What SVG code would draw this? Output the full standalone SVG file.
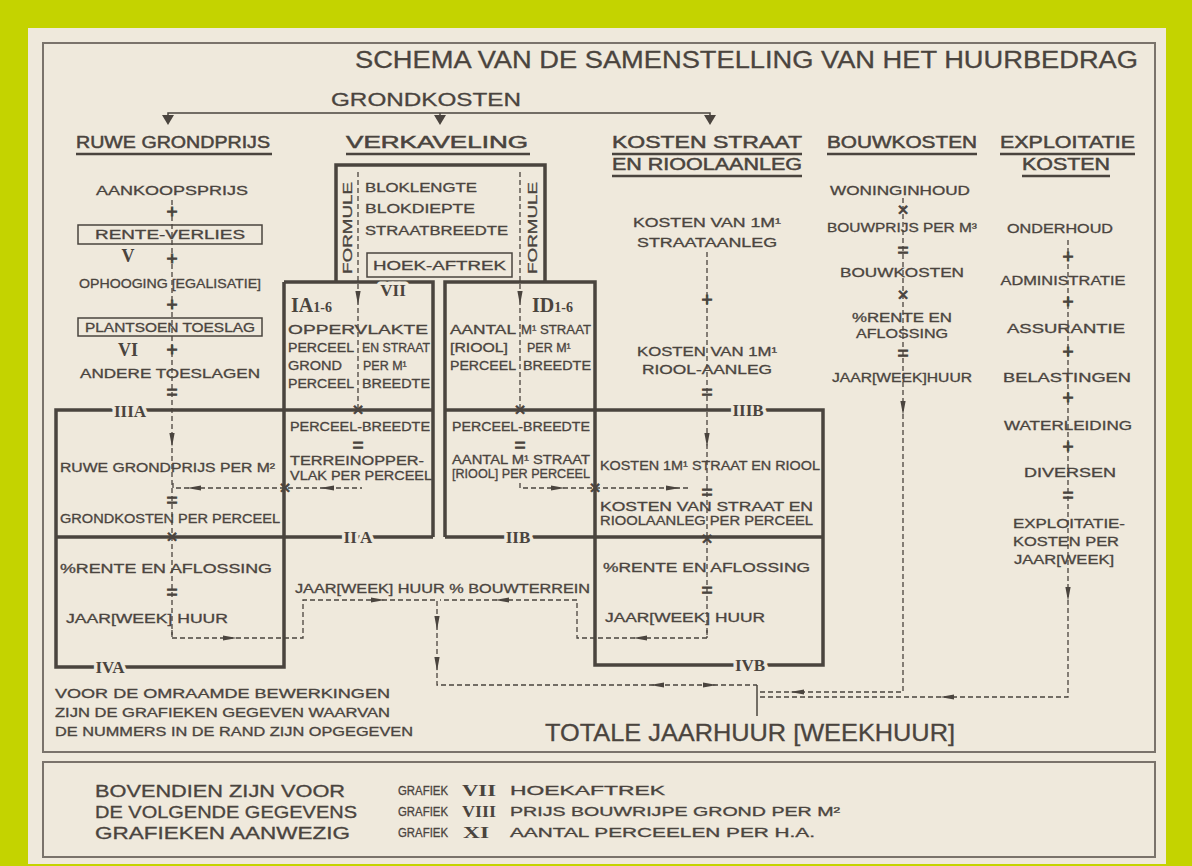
<svg xmlns="http://www.w3.org/2000/svg" width="1192" height="866" viewBox="0 0 1192 866">
<defs>
<style>
text{font-family:"Liberation Sans","DejaVu Sans",sans-serif;fill:#4a443e;stroke:#4a443e;stroke-width:0.3px}
.s{font-size:12.5px}
.c{text-anchor:middle}
.h{font-size:17px;stroke-width:0.5px}
.rn{font-family:"Liberation Serif","DejaVu Serif",serif;font-weight:bold;stroke-width:0}
.op{font-size:19px;text-anchor:middle;stroke-width:0.9px}
.halo{paint-order:stroke;stroke:#efe9dc;stroke-width:7px;stroke-linejoin:round}
.thick{fill:none;stroke:#4a443e;stroke-width:3.5}
.thin{fill:none;stroke:#4a443e;stroke-width:1.5}
.ul{fill:none;stroke:#4a443e;stroke-width:2.4}
.dash{fill:none;stroke:#4a443e;stroke-width:1.3;stroke-dasharray:5 3}
.frame{fill:none;stroke:#7a736b;stroke-width:2}
.arr{fill:#4a443e}
</style>
<path id="ad" d="M-2.6,-9 L2.6,-9 L0,5 Z"/>
<path id="tri" d="M-6,0 L6,0 L0,10 Z"/>
</defs>

<rect x="0" y="0" width="1192" height="866" fill="#c4d300"/>
<rect x="28" y="28" width="1138" height="836" fill="#efe9dc"/>
<rect class="frame" x="43" y="43" width="1112" height="709"/>
<rect class="frame" x="43" y="762" width="1112" height="95"/>

<g id="title">
<text x="355" y="68" font-size="23" stroke-width="0.6" textLength="783" lengthAdjust="spacingAndGlyphs">SCHEMA VAN DE SAMENSTELLING VAN HET HUURBEDRAG</text>
</g>

<g id="grondkosten">
<text x="331" y="106" font-size="19" stroke-width="0.6" textLength="190" lengthAdjust="spacingAndGlyphs">GRONDKOSTEN</text>
</g>

<g id="headings">
<text class="h" x="76" y="148" textLength="194" lengthAdjust="spacingAndGlyphs">RUWE GRONDPRIJS</text>
<line class="ul" x1="76" y1="154" x2="272" y2="154"/>
<text class="h" x="346" y="148" textLength="182" lengthAdjust="spacingAndGlyphs">VERKAVELING</text>
<line class="ul" x1="346" y1="154" x2="530" y2="154"/>
<text class="h" x="612" y="148" textLength="190" lengthAdjust="spacingAndGlyphs">KOSTEN STRAAT</text>
<line class="ul" x1="612" y1="154" x2="802" y2="154"/>
<text class="h" x="612" y="170" textLength="190" lengthAdjust="spacingAndGlyphs">EN RIOOLAANLEG</text>
<line class="ul" x1="612" y1="176" x2="802" y2="176"/>
<text class="h" x="827" y="148" textLength="150" lengthAdjust="spacingAndGlyphs">BOUWKOSTEN</text>
<line class="ul" x1="827" y1="154" x2="977" y2="154"/>
<text class="h" x="1000" y="148" textLength="135" lengthAdjust="spacingAndGlyphs">EXPLOITATIE</text>
<line class="ul" x1="1000" y1="154" x2="1135" y2="154"/>
<text class="h" x="1022" y="170" textLength="88" lengthAdjust="spacingAndGlyphs">KOSTEN</text>
<line class="ul" x1="1022" y1="176" x2="1110" y2="176"/>
</g>

<g id="connectors">
<path class="thin" d="M168,118 V113 H710 V118 M440,113 V118"/>
<use href="#tri" class="arr" x="168" y="115"/>
<use href="#tri" class="arr" x="440" y="115"/>
<use href="#tri" class="arr" x="710" y="115"/>

<path class="thick" d="M336,282 V165 H545 V282"/>
<path class="thick" d="M284,282 H433 V537 M284,282 V667 H56 V410 H433 M56,537 H433"/>
<path class="thick" d="M445,537 V282 H595 V665 H823 V410 H445 M445,537 H823"/>

<path class="dash" d="M172,200 V638"/>
<path class="dash" d="M358,172 V410"/>
<path class="dash" d="M520,172 V410"/>
<path class="dash" d="M707,252 V638"/>
<path class="dash" d="M903,198 V692 H757"/>
<path class="dash" d="M1068,240 V697 H757"/>

<path class="dash" d="M173,483 V488 H362"/>
<path class="dash" d="M520,483 V488 H690"/>
<path class="dash" d="M172,630 V638 H303 V600 H437 V685 H757"/>
<path class="dash" d="M707,630 V638 H577 V600 H440"/>
<path class="thin" d="M757,685 V716" stroke-width="1.2"/>

<use href="#ad" class="arr" x="358" y="300"/>
<use href="#ad" class="arr" x="520" y="300"/>
<use href="#ad" class="arr" x="172" y="442"/>
<use href="#ad" class="arr" x="707" y="442"/>
<use href="#ad" class="arr" x="903" y="410"/>
<use href="#ad" class="arr" x="1068" y="596"/>
<use href="#ad" class="arr" x="437" y="625"/>
<use href="#ad" class="arr" x="437" y="666"/>
<use href="#ad" class="arr" transform="translate(192,488) rotate(90)"/>
<use href="#ad" class="arr" transform="translate(325,488) rotate(90)"/>
<use href="#ad" class="arr" transform="translate(560,488) rotate(-90)"/>
<use href="#ad" class="arr" transform="translate(675,488) rotate(-90)"/>
<use href="#ad" class="arr" transform="translate(232,638) rotate(-90)"/>
<use href="#ad" class="arr" transform="translate(380,600) rotate(-90)"/>
<use href="#ad" class="arr" transform="translate(638,638) rotate(90)"/>
<use href="#ad" class="arr" transform="translate(500,600) rotate(90)"/>
<use href="#ad" class="arr" transform="translate(655,685) rotate(90)"/>
<use href="#ad" class="arr" transform="translate(712,685) rotate(-90)"/>
<use href="#ad" class="arr" transform="translate(795,692) rotate(90)"/>
<use href="#ad" class="arr" transform="translate(945,697) rotate(90)"/>

<text class="rn halo" x="130" y="417" font-size="17" text-anchor="middle">IIIA</text>
<text class="rn halo" x="358" y="543" font-size="17" text-anchor="middle">II A</text>
<text class="rn halo" x="518" y="543" font-size="17" text-anchor="middle">IIB</text>
<text class="rn halo" x="748" y="416" font-size="17" text-anchor="middle">IIIB</text>
<text class="rn halo" x="110" y="673" font-size="17" text-anchor="middle">IVA</text>
<text class="rn halo" x="750" y="671" font-size="17" text-anchor="middle">IVB</text>
<text class="rn halo" x="393" y="296" font-size="17" text-anchor="middle">VII</text>
</g>

<g id="ruwe-grondprijs">
<text class="s c" x="172" y="195" textLength="152" lengthAdjust="spacingAndGlyphs">AANKOOPSPRIJS</text>
<text class="op" x="172" y="218">+</text>
<rect class="thin" x="78" y="225" width="184" height="19" fill="#efe9dc"/>
<text class="s c" x="170" y="239" textLength="150" lengthAdjust="spacingAndGlyphs">RENTE-VERLIES</text>
<text class="rn" x="128" y="262" font-size="18" text-anchor="middle">V</text>
<text class="op" x="172" y="265">+</text>
<text class="s c" x="170" y="288" textLength="182" lengthAdjust="spacingAndGlyphs">OPHOOGING [EGALISATIE]</text>
<text class="op" x="172" y="311">+</text>
<rect class="thin" x="78" y="318" width="184" height="18" fill="#efe9dc"/>
<text class="s c" x="170" y="332" textLength="170" lengthAdjust="spacingAndGlyphs">PLANTSOEN TOESLAG</text>
<text class="rn" x="128" y="356" font-size="18" text-anchor="middle">VI</text>
<text class="op" x="172" y="356">+</text>
<text class="s c" x="170" y="378" textLength="180" lengthAdjust="spacingAndGlyphs">ANDERE TOESLAGEN</text>
<text class="op" x="172" y="398">=</text>
</g>

<g id="verkaveling">
<text class="s" transform="translate(352,274) rotate(-90)" textLength="92" lengthAdjust="spacingAndGlyphs">FORMULE</text>
<text class="s" transform="translate(537,274) rotate(-90)" textLength="92" lengthAdjust="spacingAndGlyphs">FORMULE</text>
<text class="s" x="365" y="192" textLength="112" lengthAdjust="spacingAndGlyphs">BLOKLENGTE</text>
<text class="s" x="365" y="213" textLength="110" lengthAdjust="spacingAndGlyphs">BLOKDIEPTE</text>
<text class="s" x="365" y="235" textLength="143" lengthAdjust="spacingAndGlyphs">STRAATBREEDTE</text>
<rect class="thin" x="367" y="253" width="145" height="24" fill="#efe9dc"/>
<text class="s" x="373" y="270" textLength="133" lengthAdjust="spacingAndGlyphs">HOEK-AFTREK</text>
</g>

<g id="box-IA">
<text class="rn" x="291" y="312" font-size="20">IA<tspan font-size="14">1-6</tspan></text>
<text class="s" x="288" y="334" textLength="140" lengthAdjust="spacingAndGlyphs">OPPERVLAKTE</text>
<text class="s" x="288" y="352" textLength="66" lengthAdjust="spacingAndGlyphs">PERCEEL</text>
<text class="s" x="362" y="352" textLength="68" lengthAdjust="spacingAndGlyphs">EN STRAAT</text>
<text class="s" x="288" y="370" textLength="54" lengthAdjust="spacingAndGlyphs">GROND</text>
<text class="s" x="363" y="370">PER M¹</text>
<text class="s" x="288" y="388" textLength="66" lengthAdjust="spacingAndGlyphs">PERCEEL</text>
<text class="s" x="362" y="388" textLength="68" lengthAdjust="spacingAndGlyphs">BREEDTE</text>
<text class="op" x="358" y="416">×</text>
<text class="s" x="290" y="431" textLength="140" lengthAdjust="spacingAndGlyphs">PERCEEL-BREEDTE</text>
<text class="op" x="358" y="451">=</text>
<text class="s" x="290" y="465" textLength="134" lengthAdjust="spacingAndGlyphs">TERREINOPPER-</text>
<text class="s" x="290" y="480" textLength="142" lengthAdjust="spacingAndGlyphs">VLAK PER PERCEEL</text>
<text class="op" x="285" y="494">×</text>
</g>

<g id="box-ID">
<text class="rn" x="532" y="312" font-size="20">ID<tspan font-size="14">1-6</tspan></text>
<text class="s" x="450" y="334" textLength="66" lengthAdjust="spacingAndGlyphs">AANTAL</text>
<text class="s" x="521" y="334" textLength="70" lengthAdjust="spacingAndGlyphs">M¹ STRAAT</text>
<text class="s" x="450" y="352" textLength="58" lengthAdjust="spacingAndGlyphs">[RIOOL]</text>
<text class="s" x="527" y="352">PER M¹</text>
<text class="s" x="450" y="370" textLength="66" lengthAdjust="spacingAndGlyphs">PERCEEL</text>
<text class="s" x="523" y="370" textLength="68" lengthAdjust="spacingAndGlyphs">BREEDTE</text>
<text class="op" x="520" y="416">×</text>
<text class="s" x="452" y="431" textLength="138" lengthAdjust="spacingAndGlyphs">PERCEEL-BREEDTE</text>
<text class="op" x="520" y="451">=</text>
<text class="s" x="452" y="464" textLength="138" lengthAdjust="spacingAndGlyphs">AANTAL  M¹ STRAAT</text>
<text class="s" x="452" y="478" textLength="138" lengthAdjust="spacingAndGlyphs">[RIOOL] PER PERCEEL</text>
<text class="op" x="595" y="494">×</text>
</g>

<g id="box-IIIA">
<text class="s" x="60" y="472" textLength="215" lengthAdjust="spacingAndGlyphs">RUWE GRONDPRIJS PER M²</text>
<text class="op" x="172" y="506">=</text>
<text class="s" x="60" y="523" textLength="220" lengthAdjust="spacingAndGlyphs">GRONDKOSTEN PER PERCEEL</text>
<text class="op" x="172" y="543">×</text>
</g>

<g id="box-IVA">
<text class="s" x="60" y="573" textLength="212" lengthAdjust="spacingAndGlyphs">%RENTE  EN   AFLOSSING</text>
<text class="op" x="172" y="598">=</text>
<text class="s" x="66" y="623" textLength="162" lengthAdjust="spacingAndGlyphs">JAAR[WEEK] HUUR</text>
</g>

<g id="bouwterrein">
<text class="s" x="295" y="593" textLength="295" lengthAdjust="spacingAndGlyphs">JAAR[WEEK] HUUR % BOUWTERREIN</text>
</g>

<g id="kosten-straat">
<text class="s c" x="707" y="227" textLength="148" lengthAdjust="spacingAndGlyphs">KOSTEN  VAN  1M¹</text>
<text class="s c" x="707" y="247" textLength="140" lengthAdjust="spacingAndGlyphs">STRAATAANLEG</text>
<text class="op" x="707" y="306">+</text>
<text class="s c" x="707" y="356" textLength="140" lengthAdjust="spacingAndGlyphs">KOSTEN  VAN 1M¹</text>
<text class="s c" x="707" y="374" textLength="130" lengthAdjust="spacingAndGlyphs">RIOOL-AANLEG</text>
<text class="op" x="707" y="398">=</text>
</g>

<g id="box-IIIB">
<text class="s" x="600" y="470" textLength="220" lengthAdjust="spacingAndGlyphs">KOSTEN 1M¹ STRAAT EN RIOOL</text>
<text class="op" x="707" y="498">=</text>
<text class="s" x="600" y="511" textLength="213" lengthAdjust="spacingAndGlyphs">KOSTEN  VAN   STRAAT  EN</text>
<text class="s" x="600" y="525" textLength="213" lengthAdjust="spacingAndGlyphs">RIOOLAANLEG PER PERCEEL</text>
<text class="op" x="707" y="545">×</text>
</g>

<g id="box-IVB">
<text class="s" x="603" y="572" textLength="207" lengthAdjust="spacingAndGlyphs">%RENTE  EN   AFLOSSING</text>
<text class="op" x="707" y="596">=</text>
<text class="s" x="605" y="622" textLength="160" lengthAdjust="spacingAndGlyphs">JAAR[WEEK]  HUUR</text>
</g>

<g id="bouwkosten">
<text class="s c" x="900" y="195" textLength="140" lengthAdjust="spacingAndGlyphs">WONINGINHOUD</text>
<text class="op" x="903" y="216">×</text>
<text class="s c" x="902" y="232" textLength="150" lengthAdjust="spacingAndGlyphs">BOUWPRIJS PER M³</text>
<text class="op" x="903" y="256">=</text>
<text class="s c" x="902" y="277" textLength="124" lengthAdjust="spacingAndGlyphs">BOUWKOSTEN</text>
<text class="op" x="903" y="301">×</text>
<text class="s c" x="902" y="322" textLength="100" lengthAdjust="spacingAndGlyphs">%RENTE EN</text>
<text class="s c" x="902" y="338" textLength="92" lengthAdjust="spacingAndGlyphs">AFLOSSING</text>
<text class="op" x="903" y="359">=</text>
<text class="s c" x="902" y="382" textLength="140" lengthAdjust="spacingAndGlyphs">JAAR[WEEK]HUUR</text>
</g>

<g id="exploitatie">
<text class="s c" x="1060" y="233" textLength="106" lengthAdjust="spacingAndGlyphs">ONDERHOUD</text>
<text class="op" x="1068" y="263">+</text>
<text class="s c" x="1063" y="285" textLength="125" lengthAdjust="spacingAndGlyphs">ADMINISTRATIE</text>
<text class="op" x="1068" y="308">+</text>
<text class="s c" x="1066" y="333" textLength="118" lengthAdjust="spacingAndGlyphs">ASSURANTIE</text>
<text class="op" x="1068" y="358">+</text>
<text class="s c" x="1067" y="382" textLength="128" lengthAdjust="spacingAndGlyphs">BELASTINGEN</text>
<text class="op" x="1068" y="404">+</text>
<text class="s c" x="1068" y="430" textLength="128" lengthAdjust="spacingAndGlyphs">WATERLEIDING</text>
<text class="op" x="1068" y="453">+</text>
<text class="s c" x="1070" y="477" textLength="92" lengthAdjust="spacingAndGlyphs">DIVERSEN</text>
<text class="op" x="1068" y="501">=</text>
<text class="s c" x="1069" y="528" textLength="112" lengthAdjust="spacingAndGlyphs">EXPLOITATIE-</text>
<text class="s c" x="1066" y="546" textLength="106" lengthAdjust="spacingAndGlyphs">KOSTEN PER</text>
<text class="s c" x="1064" y="564" textLength="100" lengthAdjust="spacingAndGlyphs">JAAR[WEEK]</text>
</g>

<g id="note">
<text class="s" x="55" y="698" textLength="335" lengthAdjust="spacingAndGlyphs">VOOR DE OMRAAMDE  BEWERKINGEN</text>
<text class="s" x="55" y="717" textLength="335" lengthAdjust="spacingAndGlyphs">ZIJN DE GRAFIEKEN GEGEVEN  WAARVAN</text>
<text class="s" x="55" y="736" textLength="358" lengthAdjust="spacingAndGlyphs">DE NUMMERS IN DE RAND ZIJN OPGEGEVEN</text>
</g>

<g id="totaal">
<text x="545" y="741" font-size="24" stroke-width="0.6" textLength="410" lengthAdjust="spacingAndGlyphs">TOTALE  JAARHUUR [WEEKHUUR]</text>
</g>

<g id="legend">
<text x="95" y="797" font-size="16" stroke-width="0.5" textLength="250" lengthAdjust="spacingAndGlyphs">BOVENDIEN ZIJN VOOR</text>
<text x="95" y="818" font-size="16" stroke-width="0.5" textLength="262" lengthAdjust="spacingAndGlyphs">DE VOLGENDE GEGEVENS</text>
<text x="95" y="839" font-size="16" stroke-width="0.5" textLength="255" lengthAdjust="spacingAndGlyphs">GRAFIEKEN AANWEZIG</text>
<text class="s" x="398" y="795" font-size="11" textLength="50" lengthAdjust="spacingAndGlyphs">GRAFIEK</text>
<text class="rn" x="462" y="796" font-size="16" textLength="34" lengthAdjust="spacingAndGlyphs">VII</text>
<text class="s" x="510" y="795" font-size="11" textLength="155" lengthAdjust="spacingAndGlyphs">HOEKAFTREK</text>
<text class="s" x="398" y="816" font-size="11" textLength="50" lengthAdjust="spacingAndGlyphs">GRAFIEK</text>
<text class="rn" x="462" y="817" font-size="16" textLength="34" lengthAdjust="spacingAndGlyphs">VIII</text>
<text class="s" x="510" y="816" font-size="11" textLength="330" lengthAdjust="spacingAndGlyphs">PRIJS  BOUWRIJPE  GROND  PER  M²</text>
<text class="s" x="398" y="837" font-size="11" textLength="50" lengthAdjust="spacingAndGlyphs">GRAFIEK</text>
<text class="rn" x="463" y="838" font-size="16" textLength="26" lengthAdjust="spacingAndGlyphs">XI</text>
<text class="s" x="510" y="837" font-size="11" textLength="305" lengthAdjust="spacingAndGlyphs">AANTAL PERCEELEN  PER  H.A.</text>
</g>
</svg>
